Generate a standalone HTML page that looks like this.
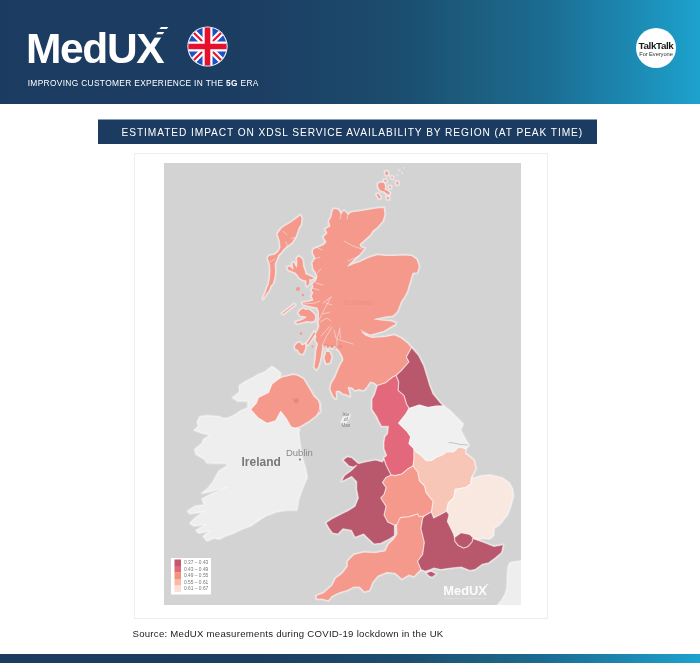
<!DOCTYPE html>
<html lang="en">
<head>
<meta charset="utf-8">
<title>MedUX – Estimated impact on xDSL service availability by region</title>
<style>
html,body{margin:0;padding:0;}
body{width:700px;height:663px;position:relative;overflow:hidden;background:#ffffff;font-family:"Liberation Sans",Arial,sans-serif;}
.hdr{position:absolute;left:0;top:0;width:700px;height:104px;background:linear-gradient(90deg,#1c3b60 0%,#1c3e62 37%,#1b4d6f 57%,#1c5f80 68.6%,#1b6a90 77%,#1c85ae 88.6%,#1da2ce 100%);}
.logo{position:absolute;left:26px;top:23.5px;font-size:42.5px;line-height:50px;font-weight:700;color:#fff;letter-spacing:-1.35px;white-space:nowrap;}
.tag{position:absolute;left:27.7px;top:77.1px;font-size:8.4px;line-height:12px;color:#fff;letter-spacing:0.325px;white-space:nowrap;}
.tag b{font-weight:700;}
.flag{position:absolute;left:186.5px;top:26.1px;width:41px;height:41px;}
.tt{position:absolute;left:636px;top:28px;width:40px;height:40px;border-radius:50%;background:#fff;}
.tt .a{position:absolute;left:0;width:40px;top:13.1px;text-align:center;font-size:9.9px;line-height:10px;font-weight:700;color:#1a1a1a;letter-spacing:-0.4px;}
.tt .b{position:absolute;left:0;width:40px;top:22.6px;text-align:center;font-size:5.8px;line-height:7px;color:#333;letter-spacing:-0.1px;}
.title{position:absolute;left:98px;top:119.5px;width:475.5px;padding-left:23.5px;height:24.5px;background:#1c3b60;color:#fff;font-size:10.2px;line-height:26px;text-align:left;letter-spacing:0.912px;box-shadow:0 -1px 0 #8d9daf;white-space:nowrap;overflow:hidden;}
.card{position:absolute;left:134px;top:153px;width:412px;height:464px;border:1px solid #ededed;background:#fff;box-sizing:content-box;}
.map{position:absolute;left:164px;top:163px;}
.src{position:absolute;left:132.5px;top:627px;font-size:9.6px;line-height:14px;color:#222;white-space:nowrap;letter-spacing:0.265px;}
.ftr{position:absolute;left:0;top:654px;width:700px;height:9px;background:linear-gradient(90deg,#1c3b60 0%,#1c3e62 37%,#1b4d6f 57%,#1c5f80 68.6%,#1b6a90 77%,#1c85ae 88.6%,#1da2ce 100%);}
</style>
</head>
<body>
<div class="hdr">
  <div class="logo">MedUX</div>
  <svg class="logoacc" style="position:absolute;left:140px;top:20px" width="40" height="30" viewBox="140 20 40 30"><rect x="150.5" y="24" width="19" height="13.6" fill="#1c3c61"/><g fill="#fff"><polygon points="161,26.9 168.3,26.9 166.7,29.1 159.4,29.1"/><polygon points="157.7,32 164.3,32 162.6,34.3 156,34.3"/></g></svg>
  <svg class="flag" viewBox="0 0 41 41">
    <defs><clipPath id="fc"><circle cx="20.5" cy="20.5" r="19.1"/></clipPath></defs>
    <circle cx="20.5" cy="20.5" r="20.1" fill="#fff"/>
    <g clip-path="url(#fc)">
      <rect x="0" y="0" width="41" height="41" fill="#1f4fc0"/>
      <path d="M0,0 L41,41 M41,0 L0,41" stroke="#fff" stroke-width="6.4"/>
      <path d="M0,0 L41,41 M41,0 L0,41" stroke="#e8112d" stroke-width="2.1"/>
      <path d="M20.5,0 V41 M0,20.5 H41" stroke="#fff" stroke-width="10"/>
      <path d="M20.5,0 V41 M0,20.5 H41" stroke="#e8112d" stroke-width="5.6"/>
    </g>
  </svg>
  <div class="tt"><div class="a">TalkTalk</div><div class="b">For Everyone</div></div>
  <div class="tag">IMPROVING CUSTOMER EXPERIENCE IN THE <b>5G</b> ERA</div>
</div>
<div class="title">ESTIMATED IMPACT ON XDSL SERVICE AVAILABILITY BY REGION (AT PEAK TIME)</div>
<div class="card"></div>
<svg class="map" width="357.2" height="441.8" viewBox="164 163 357.2 441.8">
<rect x="164" y="163" width="358" height="442" fill="#d3d3d3"/>
<g fill="none" stroke="#ffffff" stroke-opacity="0.28" stroke-width="3" stroke-linejoin="round">
<polygon points="333,209 336,208.5 339,210 341,214 343,211 345,211 348,214.5 351,212 359,211 368,209.5 377,208 384,207.5 385,214.5 383,221 377,228 373,231 370.5,235 365,240 360,244.5 361,247 365,248 362,252 359,255.5 355,259 352,262 348,266 354,263.5 360,261.5 368.5,257.5 377,254.7 386,255.5 394.5,255.5 403,255 411.5,255.5 416.7,259 419.3,266 417.6,272.7 413,273 410.4,281.6 407.3,292 404.5,297 401.3,302 398,310.7 395.5,314 392.7,316 385,317 374.7,319.3 385,320.5 391,321 396,322.7 395,325 392.7,326 384,331.3 376,333.5 370,335 362,332 366,335.5 372,337.5 380,337 386,336.4 394.4,334.7 401.3,338 408,343.3 411.6,347.6 406.4,357 409,362 401.3,370.7 396,375.5 392.7,377 385.9,382.7 377.3,385.6 374,383 370.4,382 367,387 363.6,390.7 359,389.5 355,390.7 352,388 348,387.3 349.5,392 350,396.7 346,394.5 343,394 339,391 336,391.6 336.5,396 336,399.3 333.5,397 332,394 330,389 331,384 335,377 337,372 340,365 343,360 342,356 339,351 336.5,349 335,346 332,349 329.5,346.5 328,349.5 326,346 324.5,348 323,345 322.5,348 321.5,355 320,362 318.5,367 316.5,370 314,367 315,361 315.5,355 316,350 317.5,344 315,340 316,336 314.5,334 317,331 319,326 318,322.5 318.5,318 318.5,312 317,308 310,306.5 303,305 302,302.5 308,301.5 313,300 311,296 313,293 311,290 313,287 312,284 316,280 317,276 315,272 313,269 312,263 315,258 312.5,253 313,249 318,247 323,245 326,242 323,237 327,233 325,229 330,226 328.5,221 331,217 332,212"/>
<polygon points="300.5,214.8 302,218.6 301.3,224.6 299.5,227 298.2,230.6 296,236.7 292.2,242.7 286.2,247.2 283,250.5 281,253 278.6,255.5 277,260 275,264 275.6,270 275,277 273.5,283 271,286 269.6,290 267,293.5 263,299.5 262.5,298.5 265,293 266.6,288 268.5,284 269.6,277 270,270 269.6,265 267.3,258 269,255.5 274,254.5 277.5,252 279.5,249 280,247 279.4,241.2 277.1,233.7 281.7,227.6 289.2,223.1 296.7,217.8"/>
<polygon points="298.5,256 301,257.5 303,260 303.5,266 305,270 306,274 309.5,275.5 313,277 315,278 311,280 309.5,279.5 310,283 307,287 306,284.5 306,281 302,280 299,278 297,275 295,273 291.5,271.5 288,270 287,267 290,266 293,269 292,263 294,262 296.5,267 297,263 296.5,258"/>
<polygon points="300,310 303,308 306,309.5 309,309 312.7,312 315.5,315 315.5,318 314.7,321 311,322 307,321.5 303,322.5 297,324 295,322 298,321 301,320 304,318.5 306,317 303,316.5 300,316 298,313"/>
<polygon points="297,343 300,342 302,345 306,343.5 305.5,349 303,354.5 299.5,353.5 297.5,350 295,349.5 294.5,346"/>
<polygon points="314,331.5 316,333 313,338 310,342.5 307.5,345.5 306,344 309,339.5 311.5,335.5"/>
<polygon points="326,351 330,352 332,357 330,363 326,364 324,358"/>
<polygon points="294.4,303.7 295.5,305 283,314.6 281.6,313.4"/>
<polygon points="377.8,183.5 381,182 384.5,182.8 385.5,186 385,189.5 388,190.5 390.4,193 389.5,195 386.5,194 384,191.8 381.5,191.5 379,189.5 377.6,186.5"/>
<polygon points="376,194 378,193 381,197 380.5,199 378.5,198.5"/>
<polygon points="386,196.5 389,196.8 389.5,199.5 387,199.8"/>
<polygon points="385,171.2 388,171 388.7,174.5 386.5,176 384.9,174"/>
<polygon points="383.6,179.5 386.5,179.3 387,182 384.5,182.3"/>
<polygon points="395.6,181 398.5,181.5 399,184.5 396.5,185.3"/>
<polygon points="388.7,185.7 391.3,186 391,188.7 389,188.5"/>
<polygon points="391,176 393.5,176.5 393,179 391,178.5"/>
<polygon points="272,366.7 277,370 280.7,373.6 279,378.7 272,384 268.7,392.4 258.4,397.6 256.7,402.7 250.7,409.6 258.4,418 267,423.3 275.6,420.7 280.7,411.3 286,418 291,426.7 295,428 299.3,429.3 298.4,433.6 300,445 302,457.6 305.3,468.7 307,477.3 302,489.3 298.4,499.6 296.7,510 286,510 277.3,511.6 267,515 263,517.2 257.8,520.8 250.6,525.7 240.9,529.3 233.7,532.9 226.4,535.3 219.2,538.9 214.4,537.7 207.1,540.7 203.5,536.5 210.7,530.5 198.7,532.9 196.3,530.5 205.9,524.5 193.9,525.7 190.2,523.2 195,518.4 204.7,511.2 190.2,513.6 187.8,511.2 195,506.4 204.7,505.2 202.3,499.1 212,494 227.6,487.3 212,491 202.3,493.1 207.1,489.5 213.2,482.2 215.6,477.2 219.2,471.2 227.6,465.7 226.4,462.7 218,463.3 207.1,462.7 204.7,459.1 196.3,454.3 195,449.5 202.3,443.4 203.5,439.8 210.7,435 201,432.6 194.5,430.2 198.7,426.5 197.5,421.7 199.9,416.9 207.1,415.7 219.2,416.9 224,418.7 228.8,418.1 236,414.5 240.9,410.9 248,408 248,401 238,401 232.7,397.6 239.6,392.4 239.6,385.6 245,382 251.6,378.7 258,375 265.3,372"/>
<polygon points="279,378.7 282.4,377 287,376 293.3,374.4 298,375.5 303.6,378.7 308.7,387.3 313.9,396 318,400 320,403 320.7,411.3 318,414 315.6,416.4 308.7,421.6 300,426.7 295,428 291,426.7 286,418 280.7,411.3 275.6,420.7 267,423.3 258.4,418 250.7,409.6 256.7,402.7 258.4,397.6 268.7,392.4 272,384"/>
<polygon points="509.9,563.1 515,562 522,561.3 522,606 497.2,606 501.7,600.7 505.4,594.4 507.2,588 507.6,577.2 508.1,568.1"/>
<polygon points="411.6,347.6 418.4,355.3 423.6,365.6 426,373.3 429.6,385.3 433,394 440,402.4 443.3,406 436.4,406 428,407.6 419.3,405 409,408.4 406.4,404 404,395.6 398,390.4 398.7,382 396,375.5 401.3,370.7 409,362 406.4,357"/>
<polygon points="396,375.5 392.7,377 385.9,382.7 377.3,385.6 374.7,394 372,399.3 372,409.6 376.4,416 379,421.6 381.6,426.4 388.4,426.4 387.6,433.6 385,436.7 384,442 384,448.7 386.7,455.6 384,457.6 384,459.3 386,465.3 391,475 395.3,475.6 402,474 407.3,469.3 413,466 414,459 414,453.3 414,448.7 409,443.6 410.7,436.7 407.3,431.6 402,426.4 398.7,423 405.6,414.4 409,408.4 406.4,404 404,395.6 398,390.4 398.7,382"/>
<polygon points="409,408.4 419.3,405 428,407.6 436.4,406 443.3,406 450,411 457,418 463,424 460.4,430 465.6,440 469,445.3 465.6,448.7 458.7,447 453.6,452 446.7,452 441.6,455.6 436.4,457.3 431.3,460.7 426,460.7 421,455.6 416,452 414,448.7 409,443.6 410.7,436.7 407.3,431.6 402,426.4 398.7,423 405.6,414.4"/>
<polygon points="414,448.7 416,452 421,455.6 426,460.7 431.3,460.7 436.4,457.3 441.6,455.6 446.7,452 453.6,452 458.7,447 465.6,448.7 465.6,453.3 474,460 476,468.7 471.6,477.3 470.7,484 465.6,487.6 455.3,489.3 453.6,498 448.4,503 446.5,511.3 438.7,515.6 433.6,518 431.3,512 433,501.3 426,492.7 424.4,486 419.3,480.7 417.6,472 413,466 414,459 414,453.3"/>
<polygon points="413,466 417.6,472 419.3,480.7 424.4,486 426,492.7 433,501.3 431.3,512 424.4,516 419.3,516.7 417.6,514 409,516.7 400.4,517.6 398,524 394.4,525.3 387.6,522 384,515 386,506.4 380.7,498 384,494.4 386,487.6 382.4,482.4 386,477.3 391,475 395.3,475.6 402,474 407.3,469.3"/>
<polygon points="471.6,477.3 472,478.7 481.6,476 490,475.3 502,478 509,483 512.4,489 513.3,496 510.7,506 507.3,514.7 502,521.6 498.7,525 493.6,528.4 493.6,535.3 490,538.7 482,538 477,539.5 473,537.5 469.6,534.4 461,532.7 454.5,537.5 453.3,533.6 450,526.7 447.3,521.6 449,514.7 446.5,511.3 448.4,503 453.6,498 455.3,489.3 465.6,487.6 470.7,484"/>
<polygon points="424.4,516 419.3,516.7 417.6,514 409,516.7 400.4,517.6 396.5,525.3 397,534 393.6,539 388.4,544 385,551 374.7,552.7 364.4,552 354,554.4 347.3,561.3 347.3,566.4 342,573.3 335.3,578.4 332,585.3 323.3,593 316.4,595.6 316.4,599 321.6,599 328.4,600.7 332,596.4 338.7,593 347.3,590.4 354,587 359.3,587 364.4,592 369.6,590.4 373,582 378,576 386.7,572.4 395.3,573.3 402,579.3 409,575 414,576.7 421,569.5 417.6,561.3 422.7,554.4 424.4,542.4 421,528.7 422.7,518.4"/>
<polygon points="384,459.3 386,465.3 391,475 386,477.3 382.4,482.4 386,487.6 384,494.4 380.7,498 386,506.4 384,515 387.6,522 394.4,525.3 394.4,535.6 389.3,539 380.7,543.3 374,544 367,537.3 363.6,534 355,537.3 351.6,530.4 343,528.7 338,534 332.7,533 329.3,528.7 326,522.7 332.7,518.4 341.3,514 348,510.7 355,506.4 358.4,498 356.7,489.3 356.7,481.6 351.6,476.4 344.7,480 341.3,481.6 344.7,475.6 351.6,470.4 356.7,465.3 353.3,467 349,466 343,460 347.3,456.7 351.6,457.6 356.7,462 358.4,463.6 365.3,462 375.6,460 382.4,462"/>
<polygon points="431.3,512 433.6,518 438.7,515.6 446.5,511.3 449,514.7 447.3,521.6 450,526.7 453.3,533.6 454.5,537.5 455,541.3 458.4,545.6 463.6,548 468,546.4 472,542 473,537.5 473.3,538.7 478.4,540.4 485.3,543 494,546.4 503.3,544.7 501.6,552.4 495.6,557.6 488.7,562.7 482,564.4 475,569.6 470,570.4 461.3,567 451,568 440.7,569.6 434,568 430.4,569.6 425.3,571.3 421,569.5 417.6,561.3 422.7,554.4 424.4,542.4 421,528.7 422.7,518.4 424.4,516"/>
<polygon points="454.5,537.5 461,532.7 469.6,534.4 473,537.5 472,542 468,546.4 463.6,548 458.4,545.6 455,541.3"/>
<polygon points="426.1,573 431.3,571.3 436.4,573.9 432.1,577.3 429,576"/>
<polygon points="347,413 350,415 347,421 343,425 341.5,422 344,417"/>
</g>
<g stroke="#ffffff" stroke-opacity="0.55" stroke-width="1.1" stroke-linejoin="round">
<polygon fill="#f4998b" points="333,209 336,208.5 339,210 341,214 343,211 345,211 348,214.5 351,212 359,211 368,209.5 377,208 384,207.5 385,214.5 383,221 377,228 373,231 370.5,235 365,240 360,244.5 361,247 365,248 362,252 359,255.5 355,259 352,262 348,266 354,263.5 360,261.5 368.5,257.5 377,254.7 386,255.5 394.5,255.5 403,255 411.5,255.5 416.7,259 419.3,266 417.6,272.7 413,273 410.4,281.6 407.3,292 404.5,297 401.3,302 398,310.7 395.5,314 392.7,316 385,317 374.7,319.3 385,320.5 391,321 396,322.7 395,325 392.7,326 384,331.3 376,333.5 370,335 362,332 366,335.5 372,337.5 380,337 386,336.4 394.4,334.7 401.3,338 408,343.3 411.6,347.6 406.4,357 409,362 401.3,370.7 396,375.5 392.7,377 385.9,382.7 377.3,385.6 374,383 370.4,382 367,387 363.6,390.7 359,389.5 355,390.7 352,388 348,387.3 349.5,392 350,396.7 346,394.5 343,394 339,391 336,391.6 336.5,396 336,399.3 333.5,397 332,394 330,389 331,384 335,377 337,372 340,365 343,360 342,356 339,351 336.5,349 335,346 332,349 329.5,346.5 328,349.5 326,346 324.5,348 323,345 322.5,348 321.5,355 320,362 318.5,367 316.5,370 314,367 315,361 315.5,355 316,350 317.5,344 315,340 316,336 314.5,334 317,331 319,326 318,322.5 318.5,318 318.5,312 317,308 310,306.5 303,305 302,302.5 308,301.5 313,300 311,296 313,293 311,290 313,287 312,284 316,280 317,276 315,272 313,269 312,263 315,258 312.5,253 313,249 318,247 323,245 326,242 323,237 327,233 325,229 330,226 328.5,221 331,217 332,212"/>
<polygon fill="#f4998b" points="300.5,214.8 302,218.6 301.3,224.6 299.5,227 298.2,230.6 296,236.7 292.2,242.7 286.2,247.2 283,250.5 281,253 278.6,255.5 277,260 275,264 275.6,270 275,277 273.5,283 271,286 269.6,290 267,293.5 263,299.5 262.5,298.5 265,293 266.6,288 268.5,284 269.6,277 270,270 269.6,265 267.3,258 269,255.5 274,254.5 277.5,252 279.5,249 280,247 279.4,241.2 277.1,233.7 281.7,227.6 289.2,223.1 296.7,217.8"/>
<polygon fill="#f4998b" points="298.5,256 301,257.5 303,260 303.5,266 305,270 306,274 309.5,275.5 313,277 315,278 311,280 309.5,279.5 310,283 307,287 306,284.5 306,281 302,280 299,278 297,275 295,273 291.5,271.5 288,270 287,267 290,266 293,269 292,263 294,262 296.5,267 297,263 296.5,258"/>
<polygon fill="#f4998b" points="300,310 303,308 306,309.5 309,309 312.7,312 315.5,315 315.5,318 314.7,321 311,322 307,321.5 303,322.5 297,324 295,322 298,321 301,320 304,318.5 306,317 303,316.5 300,316 298,313"/>
<polygon fill="#f4998b" points="297,343 300,342 302,345 306,343.5 305.5,349 303,354.5 299.5,353.5 297.5,350 295,349.5 294.5,346"/>
<polygon fill="#f4998b" points="314,331.5 316,333 313,338 310,342.5 307.5,345.5 306,344 309,339.5 311.5,335.5"/>
<polygon fill="#f4998b" points="326,351 330,352 332,357 330,363 326,364 324,358"/>
<polygon fill="#f4998b" points="294.4,303.7 295.5,305 283,314.6 281.6,313.4"/>
<polygon fill="#f4998b" points="377.8,183.5 381,182 384.5,182.8 385.5,186 385,189.5 388,190.5 390.4,193 389.5,195 386.5,194 384,191.8 381.5,191.5 379,189.5 377.6,186.5"/>
<polygon fill="#f4998b" points="376,194 378,193 381,197 380.5,199 378.5,198.5"/>
<polygon fill="#f4998b" points="386,196.5 389,196.8 389.5,199.5 387,199.8"/>
<polygon fill="#f4998b" points="385,171.2 388,171 388.7,174.5 386.5,176 384.9,174"/>
<polygon fill="#f4998b" points="383.6,179.5 386.5,179.3 387,182 384.5,182.3"/>
<polygon fill="#f4998b" points="395.6,181 398.5,181.5 399,184.5 396.5,185.3"/>
<polygon fill="#f4998b" points="388.7,185.7 391.3,186 391,188.7 389,188.5"/>
<polygon fill="#f4998b" points="391,176 393.5,176.5 393,179 391,178.5"/>
<polygon fill="#eeeeee" points="272,366.7 277,370 280.7,373.6 279,378.7 272,384 268.7,392.4 258.4,397.6 256.7,402.7 250.7,409.6 258.4,418 267,423.3 275.6,420.7 280.7,411.3 286,418 291,426.7 295,428 299.3,429.3 298.4,433.6 300,445 302,457.6 305.3,468.7 307,477.3 302,489.3 298.4,499.6 296.7,510 286,510 277.3,511.6 267,515 263,517.2 257.8,520.8 250.6,525.7 240.9,529.3 233.7,532.9 226.4,535.3 219.2,538.9 214.4,537.7 207.1,540.7 203.5,536.5 210.7,530.5 198.7,532.9 196.3,530.5 205.9,524.5 193.9,525.7 190.2,523.2 195,518.4 204.7,511.2 190.2,513.6 187.8,511.2 195,506.4 204.7,505.2 202.3,499.1 212,494 227.6,487.3 212,491 202.3,493.1 207.1,489.5 213.2,482.2 215.6,477.2 219.2,471.2 227.6,465.7 226.4,462.7 218,463.3 207.1,462.7 204.7,459.1 196.3,454.3 195,449.5 202.3,443.4 203.5,439.8 210.7,435 201,432.6 194.5,430.2 198.7,426.5 197.5,421.7 199.9,416.9 207.1,415.7 219.2,416.9 224,418.7 228.8,418.1 236,414.5 240.9,410.9 248,408 248,401 238,401 232.7,397.6 239.6,392.4 239.6,385.6 245,382 251.6,378.7 258,375 265.3,372"/>
<polygon fill="#f4998b" points="279,378.7 282.4,377 287,376 293.3,374.4 298,375.5 303.6,378.7 308.7,387.3 313.9,396 318,400 320,403 320.7,411.3 318,414 315.6,416.4 308.7,421.6 300,426.7 295,428 291,426.7 286,418 280.7,411.3 275.6,420.7 267,423.3 258.4,418 250.7,409.6 256.7,402.7 258.4,397.6 268.7,392.4 272,384"/>
<polygon fill="#eeeeee" points="509.9,563.1 515,562 522,561.3 522,606 497.2,606 501.7,600.7 505.4,594.4 507.2,588 507.6,577.2 508.1,568.1"/>
<polygon fill="#b9586c" points="411.6,347.6 418.4,355.3 423.6,365.6 426,373.3 429.6,385.3 433,394 440,402.4 443.3,406 436.4,406 428,407.6 419.3,405 409,408.4 406.4,404 404,395.6 398,390.4 398.7,382 396,375.5 401.3,370.7 409,362 406.4,357"/>
<polygon fill="#e4687b" points="396,375.5 392.7,377 385.9,382.7 377.3,385.6 374.7,394 372,399.3 372,409.6 376.4,416 379,421.6 381.6,426.4 388.4,426.4 387.6,433.6 385,436.7 384,442 384,448.7 386.7,455.6 384,457.6 384,459.3 386,465.3 391,475 395.3,475.6 402,474 407.3,469.3 413,466 414,459 414,453.3 414,448.7 409,443.6 410.7,436.7 407.3,431.6 402,426.4 398.7,423 405.6,414.4 409,408.4 406.4,404 404,395.6 398,390.4 398.7,382"/>
<polygon fill="#f0f0f0" points="409,408.4 419.3,405 428,407.6 436.4,406 443.3,406 450,411 457,418 463,424 460.4,430 465.6,440 469,445.3 465.6,448.7 458.7,447 453.6,452 446.7,452 441.6,455.6 436.4,457.3 431.3,460.7 426,460.7 421,455.6 416,452 414,448.7 409,443.6 410.7,436.7 407.3,431.6 402,426.4 398.7,423 405.6,414.4"/>
<polygon fill="#f8c6b6" points="414,448.7 416,452 421,455.6 426,460.7 431.3,460.7 436.4,457.3 441.6,455.6 446.7,452 453.6,452 458.7,447 465.6,448.7 465.6,453.3 474,460 476,468.7 471.6,477.3 470.7,484 465.6,487.6 455.3,489.3 453.6,498 448.4,503 446.5,511.3 438.7,515.6 433.6,518 431.3,512 433,501.3 426,492.7 424.4,486 419.3,480.7 417.6,472 413,466 414,459 414,453.3"/>
<polygon fill="#f4998b" points="413,466 417.6,472 419.3,480.7 424.4,486 426,492.7 433,501.3 431.3,512 424.4,516 419.3,516.7 417.6,514 409,516.7 400.4,517.6 398,524 394.4,525.3 387.6,522 384,515 386,506.4 380.7,498 384,494.4 386,487.6 382.4,482.4 386,477.3 391,475 395.3,475.6 402,474 407.3,469.3"/>
<polygon fill="#f9e8e0" points="471.6,477.3 472,478.7 481.6,476 490,475.3 502,478 509,483 512.4,489 513.3,496 510.7,506 507.3,514.7 502,521.6 498.7,525 493.6,528.4 493.6,535.3 490,538.7 482,538 477,539.5 473,537.5 469.6,534.4 461,532.7 454.5,537.5 453.3,533.6 450,526.7 447.3,521.6 449,514.7 446.5,511.3 448.4,503 453.6,498 455.3,489.3 465.6,487.6 470.7,484"/>
<polygon fill="#f4998b" points="424.4,516 419.3,516.7 417.6,514 409,516.7 400.4,517.6 396.5,525.3 397,534 393.6,539 388.4,544 385,551 374.7,552.7 364.4,552 354,554.4 347.3,561.3 347.3,566.4 342,573.3 335.3,578.4 332,585.3 323.3,593 316.4,595.6 316.4,599 321.6,599 328.4,600.7 332,596.4 338.7,593 347.3,590.4 354,587 359.3,587 364.4,592 369.6,590.4 373,582 378,576 386.7,572.4 395.3,573.3 402,579.3 409,575 414,576.7 421,569.5 417.6,561.3 422.7,554.4 424.4,542.4 421,528.7 422.7,518.4"/>
<polygon fill="#b9586c" points="384,459.3 386,465.3 391,475 386,477.3 382.4,482.4 386,487.6 384,494.4 380.7,498 386,506.4 384,515 387.6,522 394.4,525.3 394.4,535.6 389.3,539 380.7,543.3 374,544 367,537.3 363.6,534 355,537.3 351.6,530.4 343,528.7 338,534 332.7,533 329.3,528.7 326,522.7 332.7,518.4 341.3,514 348,510.7 355,506.4 358.4,498 356.7,489.3 356.7,481.6 351.6,476.4 344.7,480 341.3,481.6 344.7,475.6 351.6,470.4 356.7,465.3 353.3,467 349,466 343,460 347.3,456.7 351.6,457.6 356.7,462 358.4,463.6 365.3,462 375.6,460 382.4,462"/>
<polygon fill="#b9586c" points="431.3,512 433.6,518 438.7,515.6 446.5,511.3 449,514.7 447.3,521.6 450,526.7 453.3,533.6 454.5,537.5 455,541.3 458.4,545.6 463.6,548 468,546.4 472,542 473,537.5 473.3,538.7 478.4,540.4 485.3,543 494,546.4 503.3,544.7 501.6,552.4 495.6,557.6 488.7,562.7 482,564.4 475,569.6 470,570.4 461.3,567 451,568 440.7,569.6 434,568 430.4,569.6 425.3,571.3 421,569.5 417.6,561.3 422.7,554.4 424.4,542.4 421,528.7 422.7,518.4 424.4,516"/>
<polygon fill="#b9586c" points="454.5,537.5 461,532.7 469.6,534.4 473,537.5 472,542 468,546.4 463.6,548 458.4,545.6 455,541.3"/>
<polygon fill="#b9586c" points="426.1,573 431.3,571.3 436.4,573.9 432.1,577.3 429,576"/>
<polygon fill="#e9e9e9" points="347,413 350,415 347,421 343,425 341.5,422 344,417"/>
</g>
<circle cx="298" cy="289" r="2" fill="#f4998b"/>
<circle cx="303" cy="295" r="1.2" fill="#f4998b"/>
<circle cx="301" cy="333.5" r="1.3" fill="#f4998b"/>
<circle cx="312.5" cy="346.5" r="0.9" fill="#f4998b"/>
<path d="M317,324 L322,314 L331,297" fill="none" stroke="#f3eeee" stroke-opacity="0.7" stroke-width="0.8" stroke-linecap="round"/>
<path d="M322,346 L326,337 L332,327" fill="none" stroke="#f3eeee" stroke-opacity="0.7" stroke-width="0.8" stroke-linecap="round"/>
<path d="M337,349 L337,338 L339.5,330" fill="none" stroke="#f3eeee" stroke-opacity="0.7" stroke-width="0.8" stroke-linecap="round"/>
<path d="M337,339 L345,341.5 L353,344" fill="none" stroke="#f3eeee" stroke-opacity="0.7" stroke-width="0.8" stroke-linecap="round"/>
<path d="M320,322 L327,318 L331,321" fill="none" stroke="#f3eeee" stroke-opacity="0.7" stroke-width="0.8" stroke-linecap="round"/>
<path d="M321,336 L330,326" fill="none" stroke="#f3eeee" stroke-opacity="0.7" stroke-width="0.8" stroke-linecap="round"/>
<path d="M304,304 L315,303 L320,301" fill="none" stroke="#f3eeee" stroke-opacity="0.7" stroke-width="0.8" stroke-linecap="round"/>
<path d="M362,249 L353,246 L344,241" fill="none" stroke="#f3eeee" stroke-opacity="0.7" stroke-width="0.8" stroke-linecap="round"/>
<path d="M359,256 L348,261" fill="none" stroke="#f3eeee" stroke-opacity="0.7" stroke-width="0.8" stroke-linecap="round"/>
<path d="M317,273 L321,269" fill="none" stroke="#f3eeee" stroke-opacity="0.7" stroke-width="0.8" stroke-linecap="round"/>
<path d="M316,283 L323,285" fill="none" stroke="#f3eeee" stroke-opacity="0.7" stroke-width="0.8" stroke-linecap="round"/>
<path d="M312,288 L319,290" fill="none" stroke="#f3eeee" stroke-opacity="0.7" stroke-width="0.8" stroke-linecap="round"/>
<path d="M323,303 L331,297" fill="none" stroke="#f3eeee" stroke-opacity="0.7" stroke-width="0.8" stroke-linecap="round"/>
<path d="M316,247 L322,250" fill="none" stroke="#f3eeee" stroke-opacity="0.7" stroke-width="0.8" stroke-linecap="round"/>
<path d="M314,259 L320,257" fill="none" stroke="#f3eeee" stroke-opacity="0.7" stroke-width="0.8" stroke-linecap="round"/>
<path d="M334,330 L336,338" fill="none" stroke="#f3eeee" stroke-opacity="0.7" stroke-width="0.8" stroke-linecap="round"/>
<path d="M361,330 L368,334" fill="none" stroke="#f3eeee" stroke-opacity="0.7" stroke-width="0.8" stroke-linecap="round"/>
<path d="M326,303 L332,305" fill="none" stroke="#f3eeee" stroke-opacity="0.7" stroke-width="0.8" stroke-linecap="round"/>
<path d="M341,214 L340,219" fill="none" stroke="#f3eeee" stroke-opacity="0.7" stroke-width="0.8" stroke-linecap="round"/>
<path d="M348,214.5 L347,219" fill="none" stroke="#f3eeee" stroke-opacity="0.7" stroke-width="0.8" stroke-linecap="round"/>
<path d="M339.5,328 L340.5,338" fill="none" stroke="#f3eeee" stroke-opacity="0.7" stroke-width="0.8" stroke-linecap="round"/>
<path d="M283,231 L287,235" fill="none" stroke="#f3eeee" stroke-opacity="0.7" stroke-width="0.8" stroke-linecap="round"/>
<path d="M296.5,237 L291,238.5" fill="none" stroke="#f3eeee" stroke-opacity="0.7" stroke-width="0.8" stroke-linecap="round"/>
<path d="M287.5,247 L286,242" fill="none" stroke="#f3eeee" stroke-opacity="0.7" stroke-width="0.8" stroke-linecap="round"/>
<path d="M323,314 L330,312" fill="none" stroke="#f3eeee" stroke-opacity="0.7" stroke-width="0.8" stroke-linecap="round"/>
<path d="M270,262 L275,259" fill="none" stroke="#f3eeee" stroke-opacity="0.7" stroke-width="0.8" stroke-linecap="round"/>
<path d="M318.5,401 Q321.5,408 317,415" fill="none" stroke="#f6eeee" stroke-opacity="0.8" stroke-width="0.9"/>
<circle cx="399" cy="170" r="1.6" fill="#e8e2e2" fill-opacity="0.8"/>
<circle cx="402" cy="173" r="1.3" fill="#e8e2e2" fill-opacity="0.8"/>
<circle cx="397.5" cy="175" r="1.2" fill="#e8e2e2" fill-opacity="0.8"/>
<circle cx="404" cy="168" r="1" fill="#e8e2e2" fill-opacity="0.8"/>
<path d="M293,398 l3,1.5 l2,-2 l1,3 l-2,3 l-3,-1 z" fill="#e88778"/>
<path d="M468,445 L460,444.5 L454,443 L448.5,442.5" fill="none" stroke="#c4c4c4" stroke-width="1"/>
<g font-family="Liberation Sans, Arial, sans-serif">
<text x="343" y="305" font-size="7.5" fill="#d98476" fill-opacity="0.38">Scotland</text>
<text x="323" y="348" font-size="5" fill="#b96a5e" fill-opacity="0.35">Glasgow</text>
<text x="241.5" y="465.6" font-size="12" font-weight="700" fill="#787878">Ireland</text>
<text x="286" y="456.4" font-size="9.5" fill="#8a8a8a">Dublin</text>
<circle cx="300" cy="459.5" r="0.9" fill="#666"/>
<g font-size="4.5" fill="#777" text-anchor="middle"><text x="346" y="415.8">Isle</text><text x="346" y="420.9">of</text><text x="346" y="426.8">Man</text></g>
<text x="443.3" y="594.9" font-size="13.7" font-weight="700" fill="#ffffff" fill-opacity="0.93" textLength="43.6" lengthAdjust="spacingAndGlyphs">MedUX</text>
<path d="M486.3,584.1 l2.3,0 l-0.4,0.7 l-2.3,0 z M485.4,585.6 l2,0 l-0.4,0.7 l-2,0 z" fill="#ffffff" fill-opacity="0.9"/>
<text x="443.6" y="598.6" font-size="2.3" fill="#ffffff" fill-opacity="0.4" textLength="43" lengthAdjust="spacing">IMPROVING CUSTOMER EXPERIENCE IN THE 5G ERA</text>
<rect x="171" y="558" width="40" height="36.5" fill="#ffffff"/>
<rect x="174.5" y="559.5" width="6.5" height="6.6" fill="#c0586e"/>
<text x="184" y="564.3" font-size="4.6" fill="#777" textLength="24.3" lengthAdjust="spacingAndGlyphs">0.37 – 0.43</text>
<rect x="174.5" y="566" width="6.5" height="6.6" fill="#e5657a"/>
<text x="184" y="570.8" font-size="4.6" fill="#777" textLength="24.3" lengthAdjust="spacingAndGlyphs">0.43 – 0.49</text>
<rect x="174.5" y="572.5" width="6.5" height="6.6" fill="#f4907f"/>
<text x="184" y="577.3" font-size="4.6" fill="#777" textLength="24.3" lengthAdjust="spacingAndGlyphs">0.49 – 0.55</text>
<rect x="174.5" y="579" width="6.5" height="6.6" fill="#f9b9a4"/>
<text x="184" y="583.8" font-size="4.6" fill="#777" textLength="24.3" lengthAdjust="spacingAndGlyphs">0.55 – 0.61</text>
<rect x="174.5" y="585.5" width="6.5" height="6.6" fill="#fde0d4"/>
<text x="184" y="590.3" font-size="4.6" fill="#777" textLength="24.3" lengthAdjust="spacingAndGlyphs">0.61 – 0.67</text>
</g>
</svg>
<div class="src">Source: MedUX measurements during COVID-19 lockdown in the UK</div>
<div class="ftr"></div>
</body>
</html>
